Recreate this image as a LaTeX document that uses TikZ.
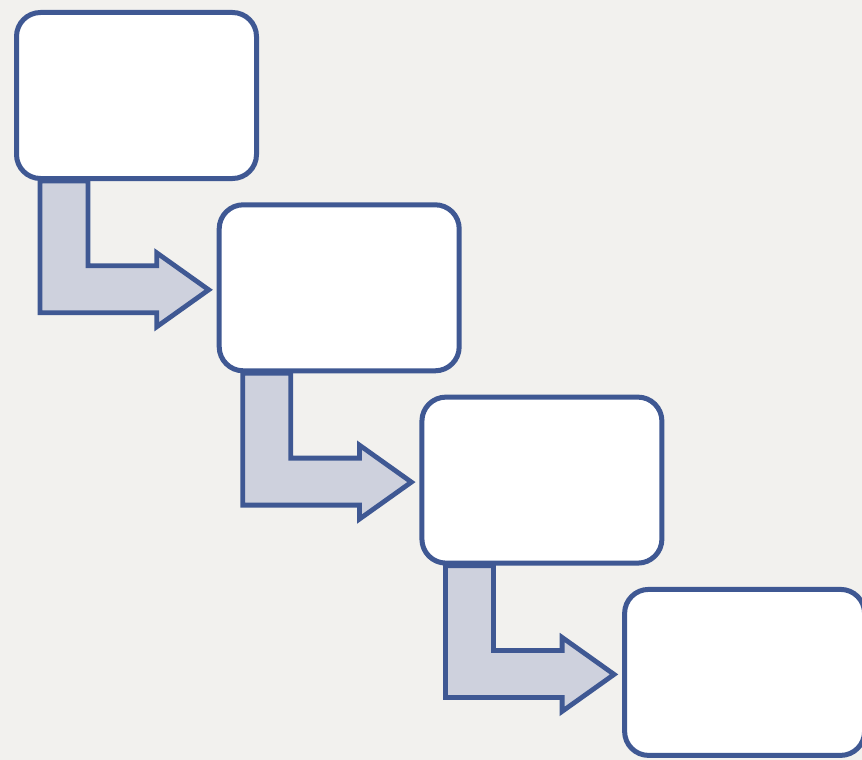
\documentclass[tikz,border=0pt]{standalone}
\usetikzlibrary{calc}

\definecolor{stepblue}{RGB}{63,88,147}
\definecolor{arrowgray}{RGB}{206,209,221}
\definecolor{paper}{RGB}{242,241,238}

\begin{document}
\begin{tikzpicture}[x = 1pt, y = -1pt,
	stepbox/.style = {draw = stepblue, line width = 5pt, fill = white,
		rounded corners = 24pt, minimum width = 240pt, minimum height = 166pt,
		inner sep = 0pt},
	bentarrow/.style = {draw = stepblue, line width = 4.8pt, fill = arrowgray,
		line join = miter}]

	% Background

	\path [use as bounding box, fill = paper] (0, 0) rectangle (862, 760);

	% Boxes

	\foreach \i in {1, ..., 4}
		\node [stepbox] (box\i) at (136.5 + 202.7 * \i - 202.7, 95.5 + 192.3 * \i - 192.3) {};

	% Bent arrows between boxes

	\foreach \i in {1, 2, 3} {
		\pgfmathtruncatemacro{\j}{\i + 1}
		\coordinate (tip\i) at ($(box\j.west) + (-8, 2)$);
		\draw [bentarrow] ($(box\i.south west) + (26, 0)$) -- ($(box\i.south west) + (74, 0)$)
			|- ($(tip\i) + (-52, -24)$) -- ($(tip\i) + (-52, -37)$) -- (tip\i)
			-- ($(tip\i) + (-52, 37)$) -- ($(tip\i) + (-52, 23)$)
			-| ($(box\i.south west) + (26, 0)$) -- cycle;
	}

\end{tikzpicture}
\end{document}
